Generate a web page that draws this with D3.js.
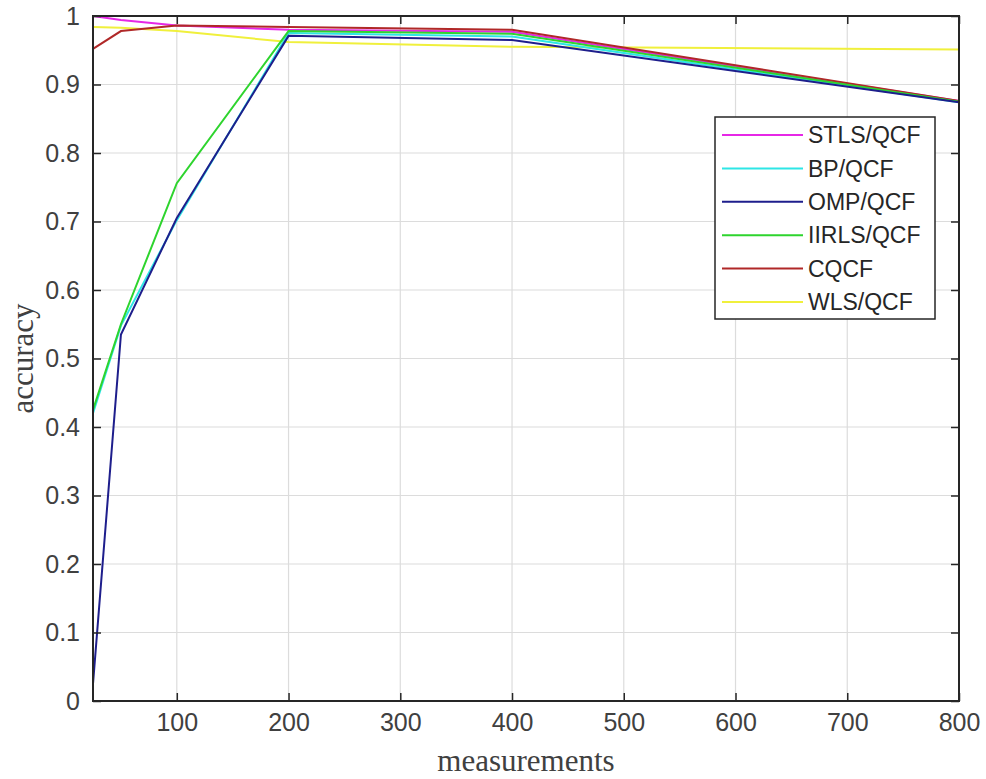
<!DOCTYPE html>
<html><head><meta charset="utf-8">
<script src="https://cdn.jsdelivr.net/npm/d3@7"></script>
<style>body{margin:0;background:#fff}svg{display:block}</style>
</head><body><svg id="c" width="986" height="779"></svg>
<script>
const measurements = [25, 50, 100, 200, 400, 800];
const stls  = [1.000, 0.994, 0.986, 0.980, 0.977, 0.876];
const bp    = [0.420, 0.548, 0.702, 0.975, 0.970, 0.874];
const omp   = [0.025, 0.535, 0.705, 0.971, 0.965, 0.874];
const iirls = [0.425, 0.550, 0.756, 0.978, 0.974, 0.875];
const cqcf  = [0.952, 0.978, 0.986, 0.984, 0.980, 0.876];
const wls   = [0.984, 0.983, 0.978, 0.962, 0.955, 0.951];
const seriesNames = ["STLS/QCF","BP/QCF","OMP/QCF","IIRLS/QCF","CQCF","WLS/QCF"];
const seriesColors = ["#e627e6","#2ee6e6","#1e1e8c","#2ed42e","#b02828","#f0f03c"];
const xTicks = [100,200,300,400,500,600,700,800];
const yTicks = [0,0.1,0.2,0.3,0.4,0.5,0.6,0.7,0.8,0.9,1];
const xLabel = "measurements", yLabel = "accuracy";

const allSeries = [stls, bp, omp, iirls, cqcf, wls];
const svg = d3.select("#c");
const L=93, R=959, T=16, B=701;
const x = d3.scaleLinear().domain([25,800]).range([L,R]);
const y = d3.scaleLinear().domain([0,1]).range([B,T]);

// grid
const g = svg.append("g");
g.selectAll(".gx").data(xTicks).join("line").attr("x1",d=>x(d)).attr("x2",d=>x(d)).attr("y1",T).attr("y2",B).attr("stroke","#dcdcdc").attr("stroke-width",1.2);
g.selectAll(".gy").data(yTicks).join("line").attr("y1",d=>y(d)).attr("y2",d=>y(d)).attr("x1",L).attr("x2",R).attr("stroke","#dcdcdc").attr("stroke-width",1.2);

// lines
const line = d3.line().x((d,i)=>x(measurements[i])).y(d=>y(d));
const order = [5,0,4,1,3,2];
order.forEach(k=>{
  svg.append("path").datum(allSeries[k]).attr("d",line).attr("fill","none")
    .attr("stroke",seriesColors[k]).attr("stroke-width",2);
});

// axes
const FS = 25;
const xb = d3.axisBottom(x).tickValues(xTicks).tickSize(-8).tickPadding(12).tickFormat(d3.format("d"));
const xt = d3.axisTop(x).tickValues(xTicks).tickSize(-8).tickFormat("");
const yl = d3.axisLeft(y).tickValues(yTicks).tickSize(-8).tickPadding(13).tickFormat(d=>d===0?"0":d===1?"1":d3.format(".1f")(d));
const yr = d3.axisRight(y).tickValues(yTicks).tickSize(-8).tickFormat("");
function style(sel){
  sel.select(".domain").remove();
  sel.selectAll(".tick line").attr("stroke","#262626").attr("stroke-width",1.5);
  sel.selectAll(".tick text").attr("fill","#404040").attr("font-size",FS).attr("font-family","Liberation Sans, Arial, sans-serif");
}
svg.append("g").attr("transform",`translate(0,${B})`).call(xb).call(style);
svg.append("g").attr("transform",`translate(0,${T})`).call(xt).call(style);
svg.append("g").attr("transform",`translate(${L},0)`).call(yl).call(style);
svg.append("g").attr("transform",`translate(${R},0)`).call(yr).call(style);
svg.append("rect").attr("x",L).attr("y",T).attr("width",R-L).attr("height",B-T).attr("fill","none").attr("stroke","#262626").attr("stroke-width",2);

// labels
svg.append("text").attr("x",(L+R)/2).attr("y",771).attr("text-anchor","middle")
  .attr("font-family","Liberation Serif, Times New Roman, serif").attr("font-size",31).attr("fill","#404040").text(xLabel);
svg.append("text").attr("transform",`translate(33,${(T+B)/2}) rotate(-90)`).attr("text-anchor","middle")
  .attr("font-family","Liberation Serif, Times New Roman, serif").attr("font-size",31).attr("fill","#404040").text(yLabel);

// legend
const lg = svg.append("g");
lg.append("rect").attr("x",715).attr("y",117).attr("width",220).attr("height",202).attr("fill","#fff").attr("stroke","#262626").attr("stroke-width",1.5);
seriesNames.forEach((n,i)=>{
  const yy = 135 + i*33.4;
  lg.append("line").attr("x1",722).attr("x2",803).attr("y1",yy).attr("y2",yy).attr("stroke",seriesColors[i]).attr("stroke-width",2);
  lg.append("text").attr("x",808).attr("y",yy).attr("dy","0.36em").attr("font-family","Liberation Sans, Arial, sans-serif")
    .attr("font-size",23).attr("fill","#262626").text(n);
});
</script></body></html>
